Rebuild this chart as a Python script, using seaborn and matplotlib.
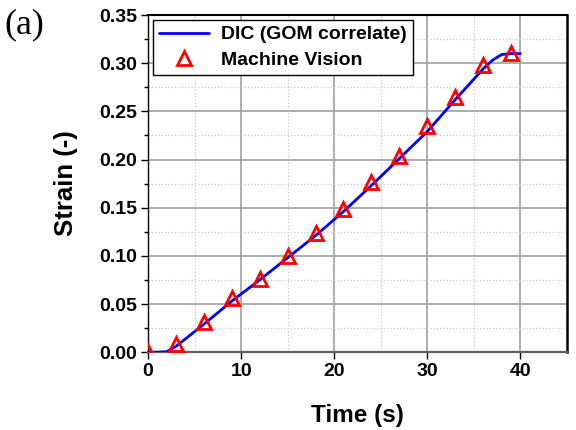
import matplotlib
matplotlib.use("Agg")
import matplotlib.pyplot as plt
import seaborn as sns
import numpy as np
from matplotlib.ticker import MultipleLocator

# DIC (GOM correlate) curve
dic_time = [0, 1, 2, 3, 6, 9, 12, 15, 18, 21, 24, 27, 30, 33, 36, 37, 38, 39, 40]
dic_strain = [0.0, 0.0, 0.0005, 0.006, 0.029, 0.053, 0.075, 0.098, 0.121, 0.146,
              0.173, 0.201, 0.229, 0.262, 0.294, 0.303, 0.309, 0.310, 0.310]

# Machine Vision points
mv_time = [0, 3, 6, 9, 12, 15, 18, 21, 24, 27, 30, 33, 36, 39]
mv_strain = [0.0, 0.008, 0.031, 0.056, 0.076, 0.100, 0.124, 0.149, 0.177,
             0.204, 0.235, 0.265, 0.298, 0.311]

x_ticks = [0, 10, 20, 30, 40]
y_ticks = [0.00, 0.05, 0.10, 0.15, 0.20, 0.25, 0.30, 0.35]

sns.set_style("ticks")
plt.rcParams['font.family'] = ['Liberation Sans', 'DejaVu Sans']
plt.rcParams['font.weight'] = 'bold'
plt.rcParams['text.color'] = 'black'
plt.rcParams['axes.labelcolor'] = 'black'
plt.rcParams['xtick.color'] = 'black'
plt.rcParams['ytick.color'] = 'black'

fig = plt.figure(figsize=(5.76, 4.30), dpi=100)
ax = fig.add_axes([0.257, 0.181, 0.727, 0.784])

sns.lineplot(x=dic_time, y=dic_strain, ax=ax, color='#0000ff', linewidth=2,
             label='DIC (GOM correlate)', zorder=3)
sns.lineplot(x=mv_time, y=mv_strain, ax=ax, color='red', marker='^',
             linestyle='none', markerfacecolor='none', markeredgecolor='red',
             markersize=10, markeredgewidth=2, label='Machine Vision', zorder=4)

ax.set_xlim(0, 45)
ax.set_ylim(0, 0.35)
ax.set_xticks(x_ticks)
ax.set_yticks(y_ticks)
ax.set_xticklabels([str(t) for t in x_ticks], fontsize=14, fontweight='bold')
ax.set_yticklabels([f"{t:.2f}" for t in y_ticks], fontsize=14, fontweight='bold')
ax.xaxis.set_minor_locator(MultipleLocator(5))
ax.yaxis.set_minor_locator(MultipleLocator(0.025))

ax.grid(which='major', color='#a0a0a0', linewidth=1.2, linestyle='-', zorder=0)
ax.grid(which='minor', color='#c8c8c8', linewidth=0.9, linestyle=':', zorder=0)
ax.set_axisbelow(True)

ax.tick_params(which='major', direction='out', length=5, width=1, color='black',
               top=False, right=False, pad=3)
ax.tick_params(which='minor', direction='out', length=3, width=1, color='black',
               top=False, right=False)
ax.tick_params(axis='x', which='minor', bottom=False)
for s in ax.spines.values():
    s.set_color('black')
    s.set_linewidth(1.0)
ax.spines['right'].set_linewidth(1.8)
ax.spines['top'].set_linewidth(1.5)
ax.spines['bottom'].set_color('#606060')
ax.spines['bottom'].set_linewidth(1.6)

ax.set_xlabel('Time (s)', fontsize=17.5, fontweight='bold', labelpad=17)
ax.set_ylabel('Strain (-)', fontsize=18.5, fontweight='bold', labelpad=15)

leg = ax.legend(loc='upper left', fontsize=14, frameon=True, fancybox=False,
                edgecolor='black', borderaxespad=0.25, handlelength=2.6,
                borderpad=0.3, labelspacing=0.4, handletextpad=0.6)
leg.get_frame().set_linewidth(1.0)
leg.get_frame().set_alpha(1)
for t in leg.get_texts():
    t.set_fontweight('bold')
    t.set_color('black')

fig.text(0.008, 0.98, '(a)', fontsize=26, family=['Liberation Serif', 'DejaVu Serif'],
         fontweight='normal', va='top', ha='left', color='black')

fig.savefig('out.png', dpi=100)
